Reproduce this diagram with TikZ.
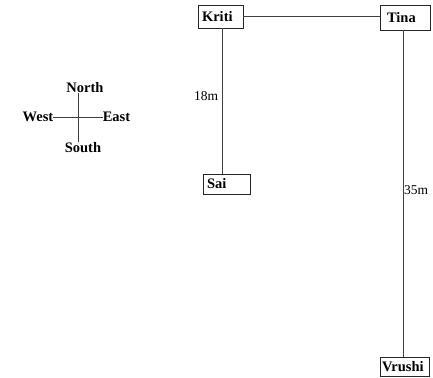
\documentclass[tikz,border=0pt]{standalone}
\usepackage{fontspec}
\setmainfont{Liberation Serif}
\begin{document}
\begin{tikzpicture}[x=1pt,y=-1pt,
  box/.style={draw=black!85, line width=0.9pt, rectangle, inner xsep=4pt, inner ysep=0pt, align=left, font=\fontsize{14.5}{15}\selectfont\bfseries},
  lbl/.style={inner sep=0pt, font=\fontsize{14.5}{15}\selectfont\bfseries},
  dist/.style={inner sep=0pt, font=\fontsize{13.5}{14}\selectfont},
  conn/.style={draw=black!75, line width=0.8pt}]
\useasboundingbox (0,0) rectangle (433,377);
% boxes
\node[box, minimum width=45pt, minimum height=23pt, text width=37pt] (kriti) at (220.5,16.5) {Kriti};
\node[box, minimum width=50pt, minimum height=25pt, text width=36pt, xshift=-3pt] (tina) at (408,17.5) {Tina};
\node[box, minimum width=47pt, minimum height=20pt, text width=39pt] (sai) at (226.5,184) {Sai};
\node[box, minimum width=49pt, minimum height=19pt, text width=45pt, inner xsep=2pt] (vrushi) at (404.5,367) {Vrushi};
% connectors
\draw[conn] (kriti.east) -- (kriti.east -| tina.west);
\coordinate (ks) at ([xshift=1.5pt]kriti.south);
\draw[conn] (ks) -- (ks |- sai.north);
\coordinate (ts) at ([xshift=-2pt]tina.south);
\draw[conn] (ts) -- (ts |- vrushi.north);
% distance labels
\node[dist] (d18) at (206,96) {18m};
\node[dist] (d35) at (416,190) {35m};
% compass
\coordinate (cN) at (78,93);
\coordinate (cS) at (78,142);
\coordinate (cW) at (53,117);
\coordinate (cE) at (103,117);
\draw[conn] (cN) -- (cS);
\draw[conn] (cW) -- (cE);
\node[lbl] (north) at (85,88) {North};
\node[lbl] (west) at (38,117) {West};
\node[lbl] (east) at (116.5,117) {East};
\node[lbl] (south) at (83,148) {South};
\end{tikzpicture}
\end{document}
